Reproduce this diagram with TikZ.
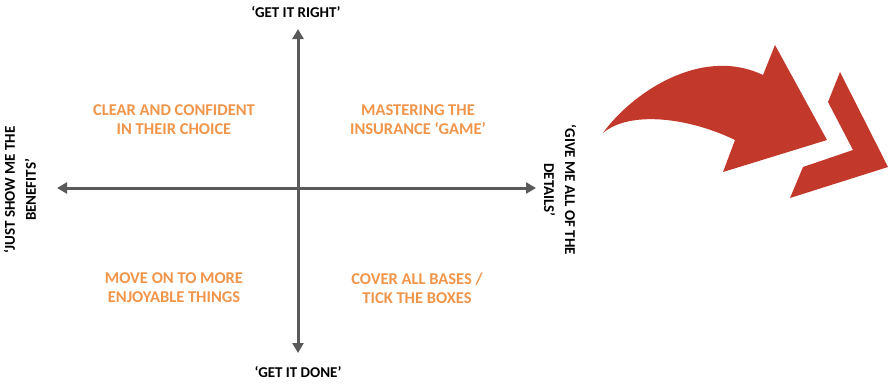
\documentclass[tikz,border=0pt]{standalone}
\usepackage{fontspec}
\setmainfont{Carlito}
\usetikzlibrary{arrows.meta}
\definecolor{axisgray}{HTML}{5A5A5A}
\definecolor{quadorange}{HTML}{F0954A}
\definecolor{arrowred}{HTML}{C2392C}
\tikzset{
  axis/.style={draw=axisgray, line width=3pt, {Triangle[width=11pt,length=10pt]}-{Triangle[width=11pt,length=10pt]}},
  quad/.style={text=quadorange, font=\bfseries\fontsize{16.5}{19}\selectfont, align=center, inner sep=0pt},
  axlabel/.style={text=black, font=\bfseries\fontsize{15}{21}\selectfont, align=center, inner sep=0pt},
  redshape/.style={fill=arrowred, draw=none}
}
\begin{document}
\begin{tikzpicture}[x=1pt,y=-1pt]
\useasboundingbox (0,0) rectangle (893,388);
% axes
\coordinate (top) at (298,29);
\coordinate (bottom) at (298,353);
\coordinate (left) at (57,188);
\coordinate (right) at (536,188);
\draw[axis] (bottom) -- (top);
\draw[axis] (left) -- (right);
% axis labels
\node[axlabel] (lt) at (296,12) {‘GET IT RIGHT’};
\node[axlabel] (lb) at (298,372) {‘GET IT DONE’};
\node[axlabel, rotate=90] (ll) at (20,190) {‘JUST SHOW ME THE\\BENEFITS’};
\node[axlabel, rotate=-90] (lr) at (560,190) {‘GIVE ME ALL OF THE\\DETAILS’};
% quadrant texts
\node[quad] (q1) at (174,120) {CLEAR AND CONFIDENT\\IN THEIR CHOICE};
\node[quad] (q2) at (418,120) {MASTERING THE\\INSURANCE ‘GAME’};
\node[quad] (q3) at (174,288) {MOVE ON TO MORE\\ENJOYABLE THINGS};
\node[quad] (q4) at (417,288) {COVER ALL BASES /\\TICK THE BOXES};
% red curved arrow
\fill[redshape] (603,133)
  .. controls (630,95) and (700,45) .. (763,75)
  -- (775,45) -- (827,140) -- (723,172) -- (735,140)
  .. controls (690,118) and (630,110) .. cycle;
% chevron
\fill[redshape] (840,72) -- (888,167) -- (790,198) -- (803,167) -- (853,150) -- (828,102) -- cycle;
\end{tikzpicture}
\end{document}
